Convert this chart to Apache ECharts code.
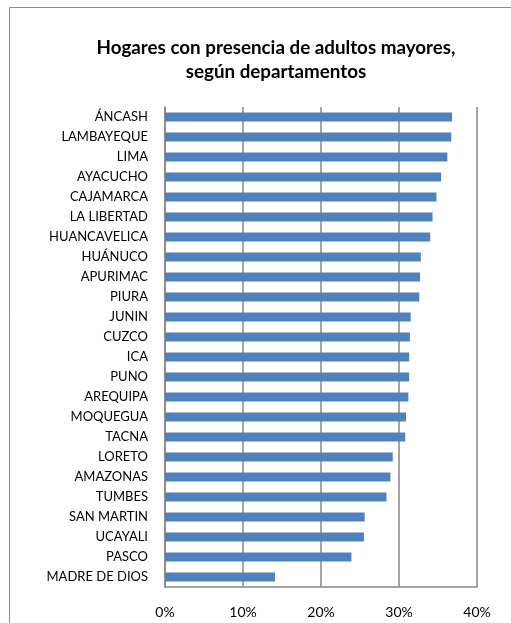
<!DOCTYPE html>
<html>
<head>
<meta charset="utf-8">
<script src="https://cdn.jsdelivr.net/npm/echarts@6/dist/echarts.min.js"></script>
<style>
  html, body { margin: 0; padding: 0; background: #fff; }
  #chart { width: 511px; height: 623px; }
</style>
</head>
<body>
<div id="chart"></div>
<script>
  // departamentos, de arriba a abajo
  var departamentos = ['ÁNCASH', 'LAMBAYEQUE', 'LIMA', 'AYACUCHO', 'CAJAMARCA', 'LA LIBERTAD',
    'HUANCAVELICA', 'HUÁNUCO', 'APURIMAC', 'PIURA', 'JUNIN', 'CUZCO', 'ICA', 'PUNO',
    'AREQUIPA', 'MOQUEGUA', 'TACNA', 'LORETO', 'AMAZONAS', 'TUMBES', 'SAN MARTIN',
    'UCAYALI', 'PASCO', 'MADRE DE DIOS']
  // % de hogares con adultos mayores
  var porcentajes = [36.8, 36.7, 36.2, 35.4, 34.8, 34.3, 34.0, 32.8, 32.7, 32.6, 31.5, 31.4,
    31.3, 31.3, 31.2, 30.9, 30.8, 29.2, 28.9, 28.4, 25.6, 25.5, 23.9, 14.1]
  var ticksX = [0, 10, 20, 30, 40]

  var fuente = 'Lato'
  var chart = echarts.init(document.getElementById('chart'))
  chart.setOption({
    animation: false,
    title: {
      text: 'Hogares con presencia de adultos mayores,\nsegún departamentos',
      left: 271,
      top: 31,
      textAlign: 'center',
      textStyle: { fontFamily: fuente, fontSize: 18.8, fontWeight: 'bold', color: '#000', lineHeight: 24 }
    },
    graphic: [{  // borde exterior
      type: 'rect',
      silent: true,
      shape: { x: 9.5, y: 7.5, width: 600, height: 700 },
      style: { fill: 'none', stroke: '#8c8c8c', lineWidth: 1 }
    }],
    grid: { left: 165, right: 34, top: 107, bottom: 36 },
    xAxis: {
      type: 'value',
      min: ticksX[0],
      max: ticksX[ticksX.length - 1],
      interval: 10,
      axisLine: { show: true, lineStyle: { color: '#868686', width: 1.5 } },
      axisTick: { show: false },
      axisLabel: { formatter: '{value}%', fontFamily: fuente, fontSize: 14, color: '#000', margin: 18 },
      splitLine: { show: true, lineStyle: { color: '#868686', width: 1.5 } }
    },
    yAxis: {
      type: 'category',
      inverse: true,
      data: departamentos,
      axisLine: { show: true, lineStyle: { color: '#868686', width: 1.5 } },
      axisTick: { show: false },
      axisLabel: { fontFamily: fuente, fontSize: 13, color: '#000', margin: 17 }
    },
    series: [{
      type: 'bar',
      data: porcentajes,
      barWidth: 9,
      itemStyle: { color: '#4f81bd' }
    }]
  })
</script>
</body>
</html>
